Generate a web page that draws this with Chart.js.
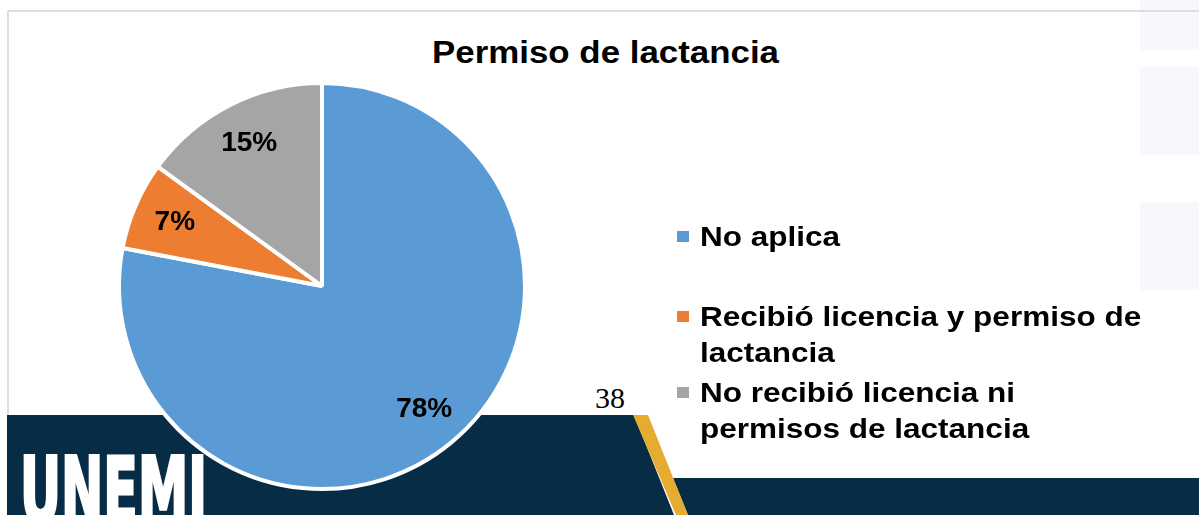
<!DOCTYPE html>
<html>
<head>
<meta charset="utf-8">
<script src="https://cdn.jsdelivr.net/npm/chart.js@4.4.1/dist/chart.umd.min.js"></script>
<style>
  html, body { margin: 0; padding: 0; background: #fff; }
  #stage { position: relative; width: 1199px; height: 515px; overflow: hidden; font-family: "Liberation Sans", Arial, sans-serif; }
  #decor, #pieChart, #legend { position: absolute; left: 0; top: 0; }
  .item { position: absolute; left: 677px; }
  .box { position: absolute; left: 0; top: 12px; width: 12px; height: 11px; }
  .txt { position: absolute; left: 23px; top: 0; width: 400px; font-weight: bold; font-size: 28px; line-height: 36px; color: #000; transform: scaleX(1.125); transform-origin: 0 0; }
</style>
</head>
<body>
<div id="stage">
  <svg id="decor" width="1199" height="515">
    <rect x="1140" y="0" width="59" height="50" fill="#f7f8fb"/>
    <rect x="1140" y="67" width="59" height="88" fill="#f7f8fb"/>
    <rect x="1140" y="202" width="59" height="88" fill="#f7f8fb"/>
    <line x1="8" y1="11" x2="1199" y2="11" stroke="#dedede" stroke-width="2"/>
    <line x1="8" y1="11" x2="8" y2="415" stroke="#dedede" stroke-width="2"/>
    <polygon points="7,415 634,415 674,515 7,515" fill="#072c46"/>
    <polygon points="673,478 1199,478 1199,515 688,515" fill="#072c46"/>
    <polygon points="633,415 648,415 688,515 676,515" fill="#e6ac32"/>
    <text x="20" y="522" fill="#fff" stroke="#fff" stroke-width="3" font-family="'Liberation Sans Narrow', 'DejaVu Sans Condensed', sans-serif" font-weight="bold" font-size="90" textLength="187" lengthAdjust="spacingAndGlyphs">UNEMI</text>
    <text x="605.5" y="63" text-anchor="middle" fill="#000" font-family="'Liberation Sans', Arial, sans-serif" font-weight="bold" font-size="32" textLength="347" lengthAdjust="spacingAndGlyphs">Permiso de lactancia</text>
    <text x="595" y="408" fill="#000" font-family="'Liberation Serif', 'Times New Roman', serif" font-size="30">38</text>
  </svg>
  <canvas id="pieChart" width="1199" height="515"></canvas>
  <div id="legend"></div>
</div>
<script>
const categories = ['No aplica', 'Recibió licencia y permiso de lactancia', 'No recibió licencia ni permisos de lactancia'];
const seriesValues = [78, 7, 15];
const sliceColors = ['#5b9bd5', '#ed7d31', '#a5a5a5'];

// percentage labels inside the slices
const sliceLabels = {
    id: 'sliceLabels',
    afterDatasetsDraw(chart) {
        const ctx = chart.ctx;
        const meta = chart.getDatasetMeta(0);
        const total = seriesValues.reduce((a, b) => a + b, 0);
        ctx.save();
        ctx.font = 'bold 28px "Liberation Sans", Arial, sans-serif';
        ctx.fillStyle = '#000';
        ctx.textAlign = 'center';
        ctx.textBaseline = 'middle';
        meta.data.forEach((arc, i) => {
            const p = arc.getProps(['x', 'y', 'startAngle', 'endAngle', 'outerRadius'], true);
            const mid = (p.startAngle + p.endAngle) / 2;
            const r = p.outerRadius * 0.79;
            const pct = Math.round(seriesValues[i] / total * 100) + '%';
            ctx.fillText(pct, p.x + Math.cos(mid) * r, p.y + Math.sin(mid) * r);
        });
        ctx.restore();
    }
};

new Chart(document.getElementById('pieChart'), {
    type: 'pie',
    data: {
        labels: categories,
        datasets: [{
            data: seriesValues,
            backgroundColor: sliceColors,
            borderColor: '#ffffff',
            borderWidth: 4
        }]
    },
    options: {
        responsive: false,
        animation: false,
        layout: { padding: { left: 117, right: 672, top: 81, bottom: 24 } },
        plugins: {
            legend: { display: false },
            tooltip: { enabled: false }
        }
    },
    plugins: [sliceLabels]
});

// legend on the right, built from the same arrays
const legendTops = [219, 299, 375];
const legend = document.getElementById('legend');
categories.forEach((name, i) => {
    const item = document.createElement('div');
    item.className = 'item';
    item.style.top = legendTops[i] + 'px';
    const box = document.createElement('div');
    box.className = 'box';
    box.style.background = sliceColors[i];
    const txt = document.createElement('div');
    txt.className = 'txt';
    txt.textContent = name;
    item.appendChild(box);
    item.appendChild(txt);
    legend.appendChild(item);
});
</script>
</body>
</html>
